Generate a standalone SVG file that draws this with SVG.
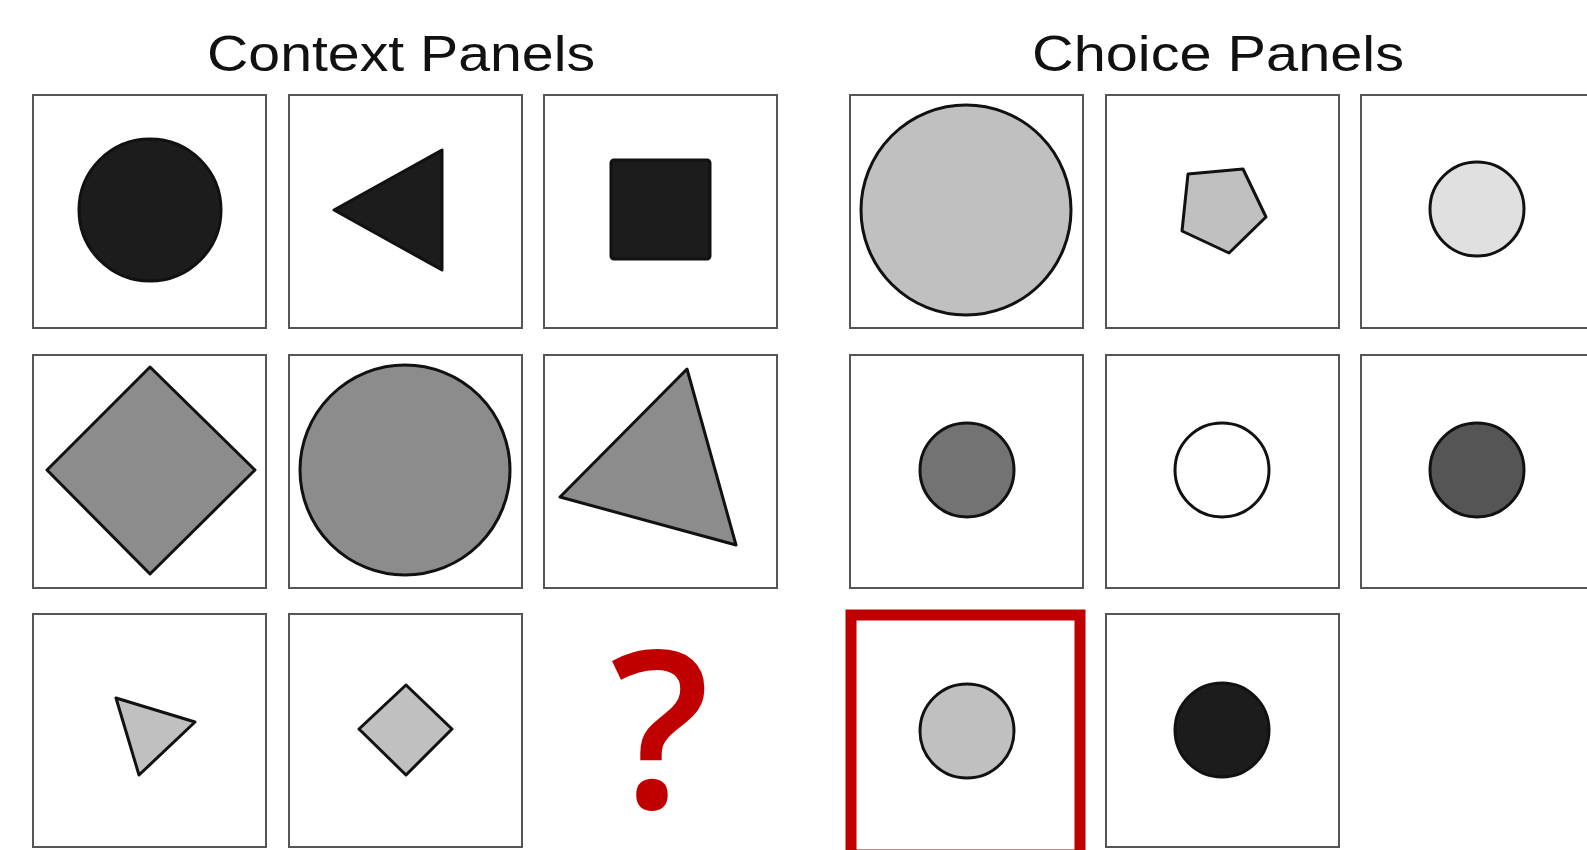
<svg xmlns="http://www.w3.org/2000/svg" width="1587" height="850" viewBox="0 0 1587 850">
<style>
.panel{fill:#fff;stroke:#555;stroke-width:2}
.shape{stroke:#111;stroke-width:3;stroke-linejoin:round}
.title{font-family:"Liberation Sans",Arial,sans-serif;font-size:50px;fill:#111}
.k1{fill:#1c1c1c}.k2{fill:#8c8c8c}.k3{fill:#c0c0c0}.k4{fill:#e0e0e0}.k5{fill:#737373}.k6{fill:#555}.k7{fill:#fff}
</style>
<rect width="1587" height="850" fill="#fff"/>
<text class="title" x="401" y="71" text-anchor="middle" textLength="388" lengthAdjust="spacingAndGlyphs">Context Panels</text>
<text class="title" x="1218" y="71" text-anchor="middle" textLength="372" lengthAdjust="spacingAndGlyphs">Choice Panels</text>

<g id="ctx-1-1"><rect class="panel" x="33" y="95" width="233" height="233"/><circle class="shape k1" cx="150" cy="210" r="71"/></g>
<g id="ctx-1-2"><rect class="panel" x="289" y="95" width="233" height="233"/><polygon class="shape k1" points="334,210 442,150 442,270"/></g>
<g id="ctx-1-3"><rect class="panel" x="544" y="95" width="233" height="233"/><rect class="shape k1" x="611" y="160" width="99" height="99" rx="3"/></g>

<g id="ctx-2-1"><rect class="panel" x="33" y="355" width="233" height="233"/><polygon class="shape k2" points="150,367 255,470 150,574 47,470"/></g>
<g id="ctx-2-2"><rect class="panel" x="289" y="355" width="233" height="233"/><circle class="shape k2" cx="405" cy="470" r="105"/></g>
<g id="ctx-2-3"><rect class="panel" x="544" y="355" width="233" height="233"/><polygon class="shape k2" points="687,369 736,545 560,497"/></g>

<g id="ctx-3-1"><rect class="panel" x="33" y="614" width="233" height="233"/><polygon class="shape k3" points="116,698 195,722 139,775"/></g>
<g id="ctx-3-2"><rect class="panel" x="289" y="614" width="233" height="233"/><polygon class="shape k3" points="406,685 452,729 406,775 359,729"/></g>
<g id="ctx-3-3"><text x="660" y="808" text-anchor="middle" font-family="'Open Sans','DejaVu Sans',sans-serif" font-weight="600" font-size="220" fill="#c00000">?</text></g>

<g id="ch-1-1"><rect class="panel" x="850" y="95" width="233" height="233"/><circle class="shape k3" cx="966" cy="210" r="105"/></g>
<g id="ch-1-2"><rect class="panel" x="1106" y="95" width="233" height="233"/><polygon class="shape k3" points="1188,174 1243,169 1266,217 1229,253 1182,231"/></g>
<g id="ch-1-3"><rect class="panel" x="1361" y="95" width="233" height="233"/><circle class="shape k4" cx="1477" cy="209" r="47"/></g>

<g id="ch-2-1"><rect class="panel" x="850" y="355" width="233" height="233"/><circle class="shape k5" cx="967" cy="470" r="47"/></g>
<g id="ch-2-2"><rect class="panel" x="1106" y="355" width="233" height="233"/><circle class="shape k7" cx="1222" cy="470" r="47"/></g>
<g id="ch-2-3"><rect class="panel" x="1361" y="355" width="233" height="233"/><circle class="shape k6" cx="1477" cy="470" r="47"/></g>

<g id="ch-3-1"><rect x="851" y="615" width="229" height="240" fill="#fff" stroke="#c00000" stroke-width="11"/><circle class="shape k3" cx="967" cy="731" r="47"/></g>
<g id="ch-3-2"><rect class="panel" x="1106" y="614" width="233" height="233"/><circle class="shape k1" cx="1222" cy="730" r="47"/></g>
</svg>
